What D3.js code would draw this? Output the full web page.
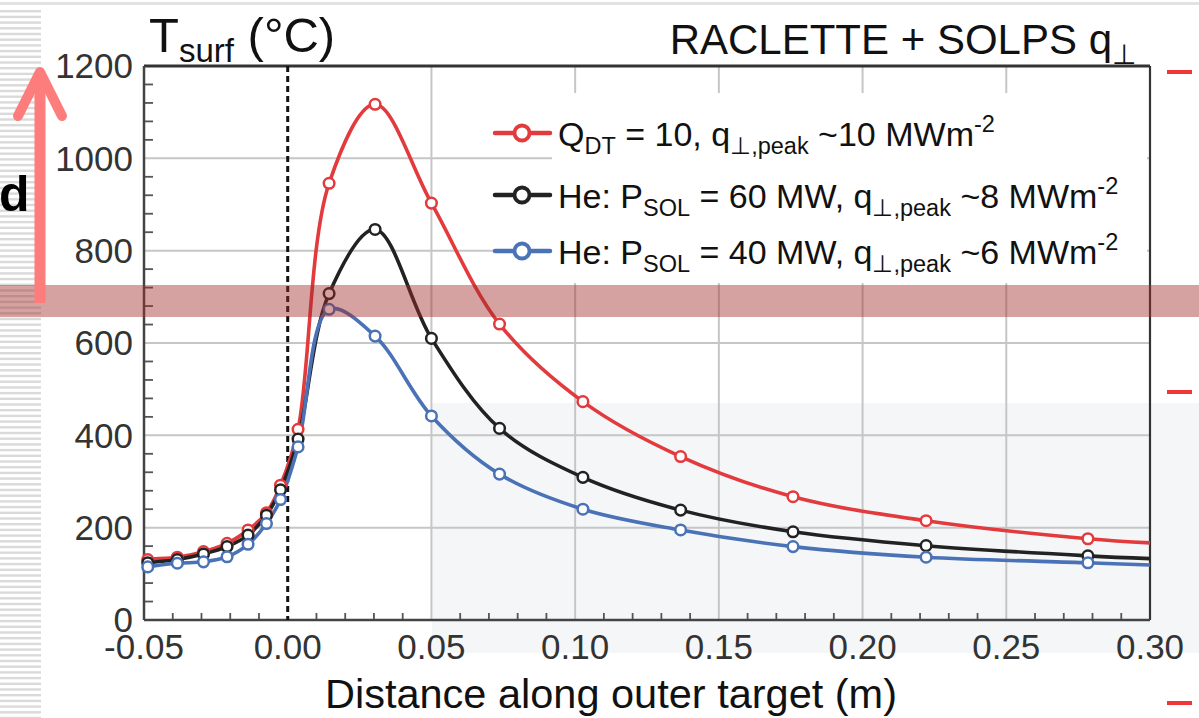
<!DOCTYPE html>
<html><head><meta charset="utf-8">
<script src="https://cdn.jsdelivr.net/npm/d3@7"></script>
<style>
html,body{margin:0;padding:0;background:#fff;}
svg{display:block;font-family:"Liberation Sans",Arial,sans-serif;}
</style></head>
<body>
<svg id="chart" width="1199" height="718"></svg>
<script>
// ---- data ----
const xMarkers = [-0.0487, -0.0384, -0.0293, -0.0211, -0.0138, -0.0074, -0.0025, 0.0036, 0.0144, 0.0304, 0.0500, 0.0737, 0.1027, 0.1367, 0.1758, 0.2221, 0.2784];
const redVals   = [131, 136, 148, 166, 195, 232, 292, 413, 946, 1117, 903, 641, 473, 354, 267, 215, 176];
const blackVals = [124, 131, 143, 159, 184, 227, 282, 392, 707, 846, 610, 415, 309, 238, 191, 161, 139];
const blueVals  = [115, 123, 126, 137, 164, 209, 261, 375, 673, 615, 442, 316, 240, 195, 159, 136, 124];
const xEnds = [-0.05, 0.30];
const redEnds = [129, 167];
const blackEnds = [122, 133];
const blueEnds = [113, 119];
const xTicks = [-0.05, 0.00, 0.05, 0.10, 0.15, 0.20, 0.25, 0.30];
const xTickLabels = ["-0.05", "0.00", "0.05", "0.10", "0.15", "0.20", "0.25", "0.30"];
const yTicks = [0, 200, 400, 600, 800, 1000, 1200];
const yTickLabels = ["0", "200", "400", "600", "800", "1000", "1200"];
const seriesNames = ["red", "black", "blue"];
const seriesColors = ["#e23a3d", "#222222", "#4a72b6"];
const legendParts = [
  [["Q",""],["DT","sub"],[" = 10, q",""],["\u22A5,peak","sub"],[" ~10 MWm",""],["-2","sup"]],
  [["He: P",""],["SOL","sub"],[" = 60 MW, q",""],["\u22A5,peak","sub"],[" ~8 MWm",""],["-2","sup"]],
  [["He: P",""],["SOL","sub"],[" = 40 MW, q",""],["\u22A5,peak","sub"],[" ~6 MWm",""],["-2","sup"]]
];

const svg = d3.select("#chart");
const W = 1199, H = 718;
const x = d3.scaleLinear().domain([-0.05, 0.30]).range([144, 1150]);
const y = d3.scaleLinear().domain([0, 1200]).range([620, 66]);

// slide background artifacts
svg.append("rect").attr("x",0).attr("y",2).attr("width",W).attr("height",3).attr("fill","#e2e2e2");
const stripes = svg.append("g");
for (let yy = 10; yy < H; yy += 5.7) {
  stripes.append("rect").attr("x",0).attr("y",yy).attr("width",41).attr("height",2.4).attr("fill","#dadada");
}
svg.append("rect").attr("x",432).attr("y",403).attr("width",W-432).attr("height",250).attr("fill","#f5f6f8");

// grid
const g = svg.append("g");
g.selectAll(".hg").data(yTicks.filter(v => v > 0 && v < 1200)).join("line")
  .attr("x1", x(-0.05)).attr("x2", x(0.30)).attr("y1", d => y(d)).attr("y2", d => y(d))
  .attr("stroke","#c6c6c6").attr("stroke-width",2);
g.selectAll(".vg").data(xTicks.filter(v => v > 0.001 && v < 0.299)).join("line")
  .attr("x1", d => x(d)).attr("x2", d => x(d)).attr("y1", y(0)).attr("y2", y(1200))
  .attr("stroke","#c6c6c6").attr("stroke-width",2);

// legend backgrounds (hide grid)
g.append("rect").attr("x",552).attr("y",93).attr("width",595).attr("height",190).attr("fill","#fff");
g.append("rect").attr("x",493).attr("y",170).attr("width",60).attr("height",113).attr("fill","#fff");

// minor ticks
const xMinor = d3.range(-0.04, 0.30, 0.01).filter(v => Math.abs(Math.round(v*100) % 5) !== 0);
g.selectAll(".xm").data(xMinor).join("line")
  .attr("x1", d => x(d)).attr("x2", d => x(d)).attr("y1", y(0)).attr("y2", y(0)-7)
  .attr("stroke","#555").attr("stroke-width",1.8);
const yMinor = d3.range(40, 1200, 40).filter(v => v % 200 !== 0);
g.selectAll(".ym").data(yMinor).join("line")
  .attr("x1", x(-0.05)).attr("x2", x(-0.05)+9).attr("y1", d => y(d)).attr("y2", d => y(d))
  .attr("stroke","#555").attr("stroke-width",1.8);

// frame
g.append("line").attr("x1",x(-0.05)).attr("x2",x(0.30)).attr("y1",y(1200)).attr("y2",y(1200)).attr("stroke","#333").attr("stroke-width",3);
g.append("line").attr("x1",x(0.30)).attr("x2",x(0.30)).attr("y1",y(1200)).attr("y2",y(0)).attr("stroke","#333").attr("stroke-width",2.2);
g.append("line").attr("x1",x(-0.05)).attr("x2",x(-0.05)).attr("y1",y(1200)).attr("y2",y(0)).attr("stroke","#444").attr("stroke-width",2.5);
g.append("line").attr("x1",x(-0.05)).attr("x2",x(0.30)).attr("y1",y(0)).attr("y2",y(0)).attr("stroke","#444").attr("stroke-width",2.5);

// dashed separatrix
g.append("line").attr("x1",x(0)).attr("x2",x(0)).attr("y1",y(1200)).attr("y2",y(0))
  .attr("stroke","#111").attr("stroke-width",3).attr("stroke-dasharray","6,4");

// tick labels
g.selectAll(".yl").data(yTicks).join("text")
  .attr("x", 133).attr("y", d => y(d)).attr("dy","0.35em").attr("text-anchor","end")
  .attr("font-size",35).attr("fill","#333").text((d,i) => yTickLabels[i]);
g.selectAll(".xl").data(xTicks).join("text")
  .attr("x", d => x(d)).attr("y", 659).attr("text-anchor","middle")
  .attr("font-size",35).attr("fill","#333").text((d,i) => xTickLabels[i]);

// series
const allVals = [redVals, blackVals, blueVals];
const allEnds = [redEnds, blackEnds, blueEnds];
const line = d3.line().x(d => x(d[0])).y(d => y(d[1])).curve(d3.curveCatmullRom.alpha(0.5));
seriesNames.forEach((name, si) => {
  const pts = [[xEnds[0], allEnds[si][0]]]
    .concat(xMarkers.map((xv, i) => [xv, allVals[si][i]]))
    .concat([[xEnds[1], allEnds[si][1]]]);
  g.append("path").datum(pts).attr("d", line).attr("fill","none")
    .attr("stroke", seriesColors[si]).attr("stroke-width",3.6);
});
seriesNames.forEach((name, si) => {
  g.selectAll(".m"+name).data(xMarkers.map((xv,i) => [xv, allVals[si][i]])).join("circle")
    .attr("cx", d => x(d[0])).attr("cy", d => y(d[1])).attr("r",5.3)
    .attr("fill","#fff").attr("stroke", seriesColors[si]).attr("stroke-width",2.5);
});

// legend
const legY = [133, 195, 251];
seriesNames.forEach((name, si) => {
  const ly = legY[si];
  g.append("line").attr("x1",495).attr("x2",550).attr("y1",ly).attr("y2",ly)
    .attr("stroke",seriesColors[si]).attr("stroke-width",4.5).attr("stroke-linecap","round");
  g.append("circle").attr("cx",522).attr("cy",ly).attr("r",7.5)
    .attr("fill","#fff").attr("stroke",seriesColors[si]).attr("stroke-width",3.8);
  const t = g.append("text").attr("x",558).attr("y",ly+13).attr("font-size",34).attr("fill","#111");
  let shift = 0;
  legendParts[si].forEach(([s, kind]) => {
    const ts = t.append("tspan").text(s);
    let target = kind === "sub" ? 8 : kind === "sup" ? -14 : 0;
    ts.attr("dy", target - shift);
    shift = target;
    if (kind) ts.attr("font-size", 23.5);
  });
});

// titles
const tt = svg.append("text").attr("x",149).attr("y",52).attr("font-size",49).attr("fill","#111");
tt.append("tspan").text("T");
tt.append("tspan").text("surf").attr("font-size",33).attr("dy",10);
tt.append("tspan").text(" (\u00B0C)").attr("dy",-10);

const rt = svg.append("text").attr("x",1136).attr("y",54).attr("text-anchor","end").attr("font-size",42).attr("fill","#111");
rt.append("tspan").text("RACLETTE + SOLPS q");
rt.append("tspan").text("\u22A5").attr("font-size",28).attr("dy",10);

svg.append("text").attr("x",611).attr("y",708).attr("text-anchor","middle").attr("font-size",41.5).attr("fill","#111")
  .text("Distance along outer target (m)");

// overlay artifacts
svg.append("rect").attr("x",0).attr("y",285).attr("width",W).attr("height",32).attr("fill","rgba(160,40,40,0.44)");
svg.append("text").attr("x",-1).attr("y",211).attr("font-size",50).attr("font-weight","bold").attr("fill","#000").text("d");
svg.append("line").attr("x1",40).attr("x2",40).attr("y1",303).attr("y2",74)
  .attr("stroke","#fd7d7d").attr("stroke-width",11);
svg.append("polyline").attr("points","18,116 40,72 62,116").attr("fill","none")
  .attr("stroke","#fd7d7d").attr("stroke-width",10).attr("stroke-linecap","round").attr("stroke-linejoin","round");
[72, 392, 703].forEach(v => {
  svg.append("line").attr("x1",1167).attr("x2",1192).attr("y1",v).attr("y2",v).attr("stroke","#f03636").attr("stroke-width",4);
});
</script>
</body></html>
